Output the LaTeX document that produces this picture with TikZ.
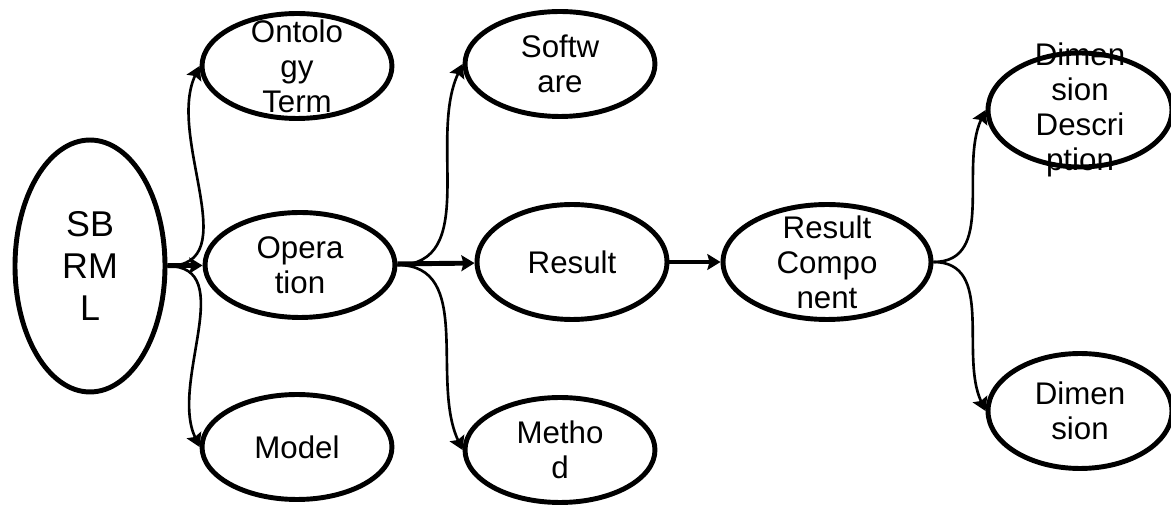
\documentclass[tikz,border=0pt]{standalone}
\usepackage{fontspec}
\setmainfont{Liberation Sans}
\usetikzlibrary{shapes.geometric,arrows.meta,positioning}
\tikzset{
>={Stealth[length=7.5pt,width=9pt,inset=1.2pt]},
  entity/.style={
    ellipse,
    draw=black, line width=2.8pt,
    inner sep=0pt,
    minimum width=3.8cm,
    minimum height=2.1cm},
  caption/.style={
    align=center,
    inner sep=0pt,
    font=\fontsize{17.8}{20}\selectfont},
  bigcaption/.style={caption, font=\fontsize{20.4}{23.8}\selectfont},
  link/.style={draw, ->, line width=1.5pt},
  mainlink/.style={draw, ->, line width=2.8pt},
}

\begin{document}
\begin{tikzpicture}[x=0.02cm, y=0.02cm]
    \useasboundingbox (0,0) rectangle (1171,507);

    \node[entity, minimum width=3cm, minimum height=5.04cm, label={[bigcaption]center:SB\\RM\\L}] (sbrml) at (90,241) {};
    \node[entity, label={[caption]center:Ontolo\\gy\\Term}] (term) at (297,441) {};
    \node[entity, label={[caption]center:Opera\\tion}] (operation) at (300,242) {};
    \node[entity, label={[caption]center:Model}] (model) at (297,60) {};

    \node[entity, label={[caption]center:Softw\\are}] (software) at (560,443) {};
    \node[entity, minimum height=2.3cm, label={[caption]center:Result}] (result) at (572,245) {};
    \node[entity, label={[caption]center:Metho\\d}] (method) at (560,57) {};

    \node[entity, minimum width=4.16cm, minimum height=2.3cm, label={[caption]center:Result\\Compo\\nent}] (component) at (827,245) {};

    \node[entity, minimum width=3.68cm, minimum height=2.28cm, label={[caption]center:Dimen\\sion\\Descri\\ption}] (description) at (1080,397) {};
    \node[entity, minimum width=3.68cm, minimum height=2.3cm, label={[caption]center:Dimen\\sion}] (dimension) at (1080,96) {};

    % arrows
    \path[mainlink] (sbrml) -- (operation);
    \path[link] (sbrml.east) to[out=0, in=245] (term.west);
    \path[link] (sbrml.east) to[out=0, in=115] (model.west);

    \path[mainlink] (operation) -- (result);
    \path[link] (operation.east) to[out=0, in=245] (software.west);
    \path[link] (operation.east) to[out=0, in=115] (method.west);

    \path[mainlink] (result) -- (component);

    \path[link] (component.east) to[out=0, in=245] (description.west);
    \path[link] (component.east) to[out=0, in=115] (dimension.west);
\end{tikzpicture}
\end{document}
